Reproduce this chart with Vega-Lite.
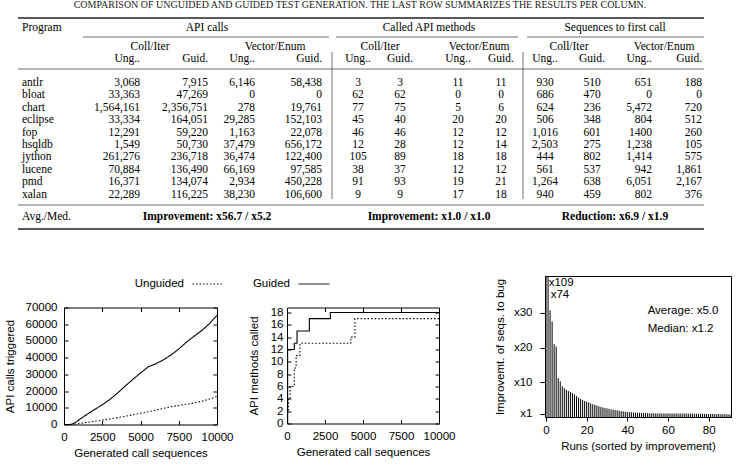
{
  "$schema": "https://vega.github.io/schema/vega-lite/v6.json",
  "padding": {"left": 3, "top": 0, "right": 0, "bottom": 0},
  "config": {
    "view": {"stroke": "black", "strokeWidth": 1},
    "font": "Liberation Sans",
    "axis": {"labelFont": "Liberation Sans", "labelFontSize": 11.5, "labelColor": "black", "titleFont": "Liberation Sans", "titleFontSize": 11.5, "titleFontWeight": "normal", "titleColor": "black", "tickColor": "black", "tickWidth": 1, "domain": false, "grid": false, "labelFlush": false, "labelOverlap": false},
    "legend": {"labelFont": "Liberation Sans", "labelFontSize": 11.5, "labelColor": "black"},
    "text": {"color": "black"}
  },
  "datasets": {
    "xa": [{"name":"edge","i":0},{"name":"prog","i":1},{"name":"ar0","i":2},{"name":"a1","i":3},{"name":"ahc","i":4},{"name":"ahd","i":5},{"name":"a2","i":6},{"name":"a3","i":7},{"name":"ahv","i":8},{"name":"a4","i":9},{"name":"ar1","i":10},{"name":"bar1","i":11},{"name":"mr0","i":12},{"name":"m1","i":13},{"name":"capc","i":14},{"name":"mhc","i":15},{"name":"m2","i":16},{"name":"mhd","i":17},{"name":"m3","i":18},{"name":"mhv","i":19},{"name":"m4","i":20},{"name":"mr1","i":21},{"name":"bar2","i":22},{"name":"sr0","i":23},{"name":"s1","i":24},{"name":"shc","i":25},{"name":"s2","i":26},{"name":"shd","i":27},{"name":"s3","i":28},{"name":"shv","i":29},{"name":"s4","i":30},{"name":"end","i":31}],
    "ya": [{"name":"cap","i":0},{"name":"top","i":1},{"name":"hdr","i":2},{"name":"r1","i":3},{"name":"sub","i":4},{"name":"vb0","i":5},{"name":"ug","i":6},{"name":"r2","i":7},{"name":"antlr","i":8},{"name":"bloat","i":9},{"name":"chart","i":10},{"name":"eclipse","i":11},{"name":"fop","i":12},{"name":"hsqldb","i":13},{"name":"jython","i":14},{"name":"lucene","i":15},{"name":"pmd","i":16},{"name":"xalan","i":17},{"name":"vb1","i":18},{"name":"r3","i":19},{"name":"avg","i":20},{"name":"bot","i":21}],
    "tbl": [
      {"row":"hdr","prog":"Program"},
      {"row":"ug","a1":"Ung..","a2":"Guid.","a3":"Ung..","a4":"Guid.","m1":"Ung..","m2":"Guid.","m3":"Ung..","m4":"Guid.","s1":"Ung..","s2":"Guid.","s3":"Ung..","s4":"Guid."},
      {"row":"antlr","prog":"antlr","a1":"3,068","a2":"7,915","a3":"6,146","a4":"58,438","m1":"3","m2":"3","m3":"11","m4":"11","s1":"930","s2":"510","s3":"651","s4":"188"},
      {"row":"bloat","prog":"bloat","a1":"33,363","a2":"47,269","a3":"0","a4":"0","m1":"62","m2":"62","m3":"0","m4":"0","s1":"686","s2":"470","s3":"0","s4":"0"},
      {"row":"chart","prog":"chart","a1":"1,564,161","a2":"2,356,751","a3":"278","a4":"19,761","m1":"77","m2":"75","m3":"5","m4":"6","s1":"624","s2":"236","s3":"5,472","s4":"720"},
      {"row":"eclipse","prog":"eclipse","a1":"33,334","a2":"164,051","a3":"29,285","a4":"152,103","m1":"45","m2":"40","m3":"20","m4":"20","s1":"506","s2":"348","s3":"804","s4":"512"},
      {"row":"fop","prog":"fop","a1":"12,291","a2":"59,220","a3":"1,163","a4":"22,078","m1":"46","m2":"46","m3":"12","m4":"12","s1":"1,016","s2":"601","s3":"1400","s4":"260"},
      {"row":"hsqldb","prog":"hsqldb","a1":"1,549","a2":"50,730","a3":"37,479","a4":"656,172","m1":"12","m2":"28","m3":"12","m4":"14","s1":"2,503","s2":"275","s3":"1,238","s4":"105"},
      {"row":"jython","prog":"jython","a1":"261,276","a2":"236,718","a3":"36,474","a4":"122,400","m1":"105","m2":"89","m3":"18","m4":"18","s1":"444","s2":"802","s3":"1,414","s4":"575"},
      {"row":"lucene","prog":"lucene","a1":"70,884","a2":"136,490","a3":"66,169","a4":"97,585","m1":"38","m2":"37","m3":"12","m4":"12","s1":"561","s2":"537","s3":"942","s4":"1,861"},
      {"row":"pmd","prog":"pmd","a1":"16,371","a2":"134,074","a3":"2,934","a4":"450,228","m1":"91","m2":"93","m3":"19","m4":"21","s1":"1,264","s2":"638","s3":"6,051","s4":"2,167"},
      {"row":"xalan","prog":"xalan","a1":"22,289","a2":"116,225","a3":"38,230","a4":"106,600","m1":"9","m2":"9","m3":"17","m4":"18","s1":"940","s2":"459","s3":"802","s4":"376"},
      {"row":"avg","prog":"Avg./Med."}
    ],
    "spans": [
      {"row":"cap","at":"capc","text":"COMPARISON OF UNGUIDED AND GUIDED TEST GENERATION. THE LAST ROW SUMMARIZES THE RESULTS PER COLUMN."},
      {"row":"hdr","at":"ahd","text":"API calls"},
      {"row":"hdr","at":"mhd","text":"Called API methods"},
      {"row":"hdr","at":"shd","text":"Sequences to first call"},
      {"row":"sub","at":"ahc","text":"Coll/Iter"},
      {"row":"sub","at":"ahv","text":"Vector/Enum"},
      {"row":"sub","at":"mhc","text":"Coll/Iter"},
      {"row":"sub","at":"mhv","text":"Vector/Enum"},
      {"row":"sub","at":"shc","text":"Coll/Iter"},
      {"row":"sub","at":"shv","text":"Vector/Enum"},
      {"row":"avg","at":"ahd","text":"Improvement: x56.7 / x5.2"},
      {"row":"avg","at":"mhd","text":"Improvement: x1.0 / x1.0"},
      {"row":"avg","at":"shd","text":"Reduction: x6.9 / x1.9"}
    ],
    "lines": [
      {"row":"top","from":"edge","to":"end"},
      {"row":"r1","from":"ar0","to":"ar1"},
      {"row":"r1","from":"mr0","to":"mr1"},
      {"row":"r1","from":"sr0","to":"end"},
      {"row":"r2","from":"edge","to":"end"},
      {"row":"r3","from":"edge","to":"end"},
      {"row":"bot","from":"edge","to":"end"}
    ],
    "bars": [
      {"col":"bar1","from":"vb0","to":"vb1"},
      {"col":"bar2","from":"vb0","to":"vb1"}
    ],
    "reach": [
      {"seq":0,"calls":0,"series":"Guided"},{"seq":400,"calls":0,"series":"Guided"},{"seq":600,"calls":500,"series":"Guided"},{"seq":800,"calls":1500,"series":"Guided"},{"seq":1000,"calls":3000,"series":"Guided"},{"seq":1500,"calls":6000,"series":"Guided"},{"seq":2000,"calls":9000,"series":"Guided"},{"seq":2500,"calls":11800,"series":"Guided"},{"seq":3000,"calls":15000,"series":"Guided"},{"seq":3500,"calls":18800,"series":"Guided"},{"seq":4000,"calls":23000,"series":"Guided"},{"seq":4500,"calls":27000,"series":"Guided"},{"seq":5000,"calls":30800,"series":"Guided"},{"seq":5500,"calls":34500,"series":"Guided"},{"seq":6000,"calls":36300,"series":"Guided"},{"seq":6500,"calls":38700,"series":"Guided"},{"seq":7000,"calls":41600,"series":"Guided"},{"seq":7500,"calls":45200,"series":"Guided"},{"seq":8000,"calls":49200,"series":"Guided"},{"seq":8500,"calls":52800,"series":"Guided"},{"seq":9000,"calls":56200,"series":"Guided"},{"seq":9500,"calls":60300,"series":"Guided"},{"seq":10000,"calls":65300,"series":"Guided"},
      {"seq":0,"calls":0,"series":"Unguided"},{"seq":500,"calls":0,"series":"Unguided"},{"seq":1000,"calls":600,"series":"Unguided"},{"seq":1500,"calls":1200,"series":"Unguided"},{"seq":2000,"calls":1900,"series":"Unguided"},{"seq":2500,"calls":2600,"series":"Unguided"},{"seq":3000,"calls":3300,"series":"Unguided"},{"seq":3500,"calls":4100,"series":"Unguided"},{"seq":4000,"calls":4900,"series":"Unguided"},{"seq":4500,"calls":5800,"series":"Unguided"},{"seq":5000,"calls":6700,"series":"Unguided"},{"seq":5500,"calls":7600,"series":"Unguided"},{"seq":6000,"calls":8600,"series":"Unguided"},{"seq":6500,"calls":9600,"series":"Unguided"},{"seq":7000,"calls":10700,"series":"Unguided"},{"seq":7500,"calls":11400,"series":"Unguided"},{"seq":8000,"calls":12100,"series":"Unguided"},{"seq":8500,"calls":12900,"series":"Unguided"},{"seq":9000,"calls":13900,"series":"Unguided"},{"seq":9500,"calls":15200,"series":"Unguided"},{"seq":10000,"calls":16800,"series":"Unguided"}
    ],
    "methods": [
      {"seq":0,"n":0,"series":"Guided"},{"seq":40,"n":12,"series":"Guided"},{"seq":480,"n":13,"series":"Guided"},{"seq":660,"n":15,"series":"Guided"},{"seq":1470,"n":17,"series":"Guided"},{"seq":2850,"n":18,"series":"Guided"},{"seq":10000,"n":18,"series":"Guided"},
      {"seq":0,"n":0,"series":"Unguided"},{"seq":40,"n":2,"series":"Unguided"},{"seq":90,"n":4,"series":"Unguided"},{"seq":200,"n":6,"series":"Unguided"},{"seq":480,"n":9,"series":"Unguided"},{"seq":600,"n":11,"series":"Unguided"},{"seq":850,"n":13,"series":"Unguided"},{"seq":4200,"n":14,"series":"Unguided"},{"seq":4470,"n":17,"series":"Unguided"},{"seq":10000,"n":17,"series":"Unguided"}
    ],
    "improve": [
      {"run":0,"x":109},{"run":1,"x":74},{"run":2,"x":30.7},{"run":3,"x":27.5},{"run":4,"x":21},{"run":5,"x":20.3},{"run":6,"x":11.2},{"run":7,"x":10.3},{"run":8,"x":8.8},{"run":9,"x":8.3},
      {"run":10,"x":7.8},{"run":11,"x":7.5},{"run":12,"x":7.2},{"run":13,"x":6.9},{"run":14,"x":6.5},{"run":15,"x":6.0},{"run":16,"x":5.6},{"run":17,"x":5.2},{"run":18,"x":4.9},{"run":19,"x":4.6},
      {"run":20,"x":4.4},{"run":21,"x":4.2},{"run":22,"x":3.9},{"run":23,"x":3.7},{"run":24,"x":3.5},{"run":25,"x":3.3},{"run":26,"x":3.1},{"run":27,"x":2.9},{"run":28,"x":2.75},{"run":29,"x":2.6},
      {"run":30,"x":2.5},{"run":31,"x":2.35},{"run":32,"x":2.2},{"run":33,"x":2.1},{"run":34,"x":2.0},{"run":35,"x":1.9},{"run":36,"x":1.8},{"run":37,"x":1.7},{"run":38,"x":1.62},{"run":39,"x":1.55},
      {"run":40,"x":1.48},{"run":41,"x":1.42},{"run":42,"x":1.36},{"run":43,"x":1.3},{"run":44,"x":1.25},{"run":45,"x":1.21},{"run":46,"x":1.19},{"run":47,"x":1.16},{"run":48,"x":1.14},{"run":49,"x":1.12},
      {"run":50,"x":1.1},{"run":51,"x":1.08},{"run":52,"x":1.07},{"run":53,"x":1.06},{"run":54,"x":1.05},{"run":55,"x":1.04},{"run":56,"x":1.03},{"run":57,"x":1.02},{"run":58,"x":1.01},{"run":59,"x":1.0},
      {"run":60,"x":1.0},{"run":61,"x":1.0},{"run":62,"x":1.0},{"run":63,"x":1.0},{"run":64,"x":1.0},{"run":65,"x":1.0},{"run":66,"x":1.0},{"run":67,"x":1.0},{"run":68,"x":1.0},{"run":69,"x":0.99},
      {"run":70,"x":0.98},{"run":71,"x":0.97},{"run":72,"x":0.96},{"run":73,"x":0.95},{"run":74,"x":0.94},{"run":75,"x":0.93},{"run":76,"x":0.92},{"run":77,"x":0.91},{"run":78,"x":0.9},{"run":79,"x":0.89},
      {"run":80,"x":0.88},{"run":81,"x":0.87},{"run":82,"x":0.86},{"run":83,"x":0.85},{"run":84,"x":0.84},{"run":85,"x":0.83},{"run":86,"x":0.82},{"run":87,"x":0.81},{"run":88,"x":0.8},{"run":89,"x":0.78},
      {"run":90,"x":0.76},{"run":91,"x":0.74}
    ]
  },
  "spacing": 37,
  "vconcat": [
    {
      "width": 640,
      "height": 229,
      "view": {"stroke": null},
      "layer": [
        {
          "data": {"name": "lines"},
          "transform": [
            {"lookup": "from", "from": {"data": {"name": "xa"}, "key": "name", "fields": ["i"]}, "as": ["x0"]},
            {"lookup": "to", "from": {"data": {"name": "xa"}, "key": "name", "fields": ["i"]}, "as": ["x1"]},
            {"lookup": "row", "from": {"data": {"name": "ya"}, "key": "name", "fields": ["i"]}, "as": ["yi"]}
          ],
          "layer": [
            {
              "transform": [{"filter": {"field": "row", "oneOf": ["top", "bot"]}}],
              "mark": {"type": "rule", "color": "#222222", "strokeWidth": 1.5},
              "encoding": {
                "x": {"field": "x0", "type": "quantitative", "axis": null, "scale": {"type": "linear", "domain": [0,1,2,3,4,5,6,7,8,9,10,11,12,13,14,15,16,17,18,19,20,21,22,23,24,25,26,27,28,29,30,31], "range": [-46,-42,19,76,86,143,144,191,211,258,265,268,272,294,296,316,336,365,394,415,437,454,459,463,481,505,528,551,588,600,638,640], "nice": false, "zero": false}},
                "x2": {"field": "x1"},
                "y": {"field": "yi", "type": "quantitative", "axis": null, "scale": {"type": "linear", "domain": [0,1,2,3,4,5,6,7,8,9,10,11,12,13,14,15,16,17,18,19,20,21], "range": [5,18,27.5,37,46.5,52,58.5,69,83,95.4,107.8,120.2,132.6,145,157.4,169.8,182.2,194.6,199,205,217,229], "nice": false, "zero": false}}
              }
            },
            {
              "transform": [{"filter": {"not": {"field": "row", "oneOf": ["top", "bot"]}}}],
              "mark": {"type": "rule", "color": "#333333", "strokeWidth": 0.7},
              "encoding": {
                "x": {"field": "x0", "type": "quantitative", "axis": null},
                "x2": {"field": "x1"},
                "y": {"field": "yi", "type": "quantitative", "axis": null}
              }
            }
          ]
        },
        {
          "data": {"name": "bars"},
          "transform": [
            {"lookup": "col", "from": {"data": {"name": "xa"}, "key": "name", "fields": ["i"]}, "as": ["xi"]},
            {"lookup": "from", "from": {"data": {"name": "ya"}, "key": "name", "fields": ["i"]}, "as": ["y0"]},
            {"lookup": "to", "from": {"data": {"name": "ya"}, "key": "name", "fields": ["i"]}, "as": ["y1"]}
          ],
          "mark": {"type": "rule", "color": "#333333", "strokeWidth": 0.7},
          "encoding": {
            "x": {"field": "xi", "type": "quantitative", "axis": null},
            "y": {"field": "y0", "type": "quantitative", "axis": null},
            "y2": {"field": "y1"}
          }
        },
        {
          "data": {"name": "tbl"},
          "transform": [
            {"fold": ["prog","a1","a2","a3","a4","m1","m2","m3","m4","s1","s2","s3","s4"], "as": ["col","txt"]},
            {"filter": "isValid(datum.txt)"},
            {"lookup": "col", "from": {"data": {"name": "xa"}, "key": "name", "fields": ["i"]}, "as": ["xi"]},
            {"lookup": "row", "from": {"data": {"name": "ya"}, "key": "name", "fields": ["i"]}, "as": ["yi"]}
          ],
          "layer": [
            {
              "transform": [{"filter": {"field": "col", "equal": "prog"}}],
              "mark": {"type": "text", "align": "left", "baseline": "middle", "font": "Liberation Serif", "fontSize": 11.5, "color": "black"},
              "encoding": {"x": {"field": "xi", "type": "quantitative", "axis": null}, "y": {"field": "yi", "type": "quantitative", "axis": null}, "text": {"field": "txt"}}
            },
            {
              "transform": [{"filter": {"field": "col", "oneOf": ["a1","a2","a3","a4","s3","s4"]}}],
              "mark": {"type": "text", "align": "right", "baseline": "middle", "font": "Liberation Serif", "fontSize": 11.5, "color": "black"},
              "encoding": {"x": {"field": "xi", "type": "quantitative", "axis": null}, "y": {"field": "yi", "type": "quantitative", "axis": null}, "text": {"field": "txt"}}
            },
            {
              "transform": [{"filter": {"field": "col", "oneOf": ["m1","m2","m3","m4","s1","s2"]}}],
              "mark": {"type": "text", "align": "center", "baseline": "middle", "font": "Liberation Serif", "fontSize": 11.5, "color": "black"},
              "encoding": {"x": {"field": "xi", "type": "quantitative", "axis": null}, "y": {"field": "yi", "type": "quantitative", "axis": null}, "text": {"field": "txt"}}
            }
          ]
        },
        {
          "data": {"name": "spans"},
          "transform": [
            {"lookup": "at", "from": {"data": {"name": "xa"}, "key": "name", "fields": ["i"]}, "as": ["xi"]},
            {"lookup": "row", "from": {"data": {"name": "ya"}, "key": "name", "fields": ["i"]}, "as": ["yi"]}
          ],
          "layer": [
            {
              "transform": [{"filter": {"field": "row", "equal": "cap"}}],
              "mark": {"type": "text", "align": "center", "baseline": "middle", "font": "Liberation Serif", "fontSize": 10, "color": "#222222"},
              "encoding": {"x": {"field": "xi", "type": "quantitative", "axis": null}, "y": {"field": "yi", "type": "quantitative", "axis": null}, "text": {"field": "text"}}
            },
            {
              "transform": [{"filter": {"field": "row", "oneOf": ["hdr", "sub"]}}],
              "mark": {"type": "text", "align": "center", "baseline": "middle", "font": "Liberation Serif", "fontSize": 11.5, "color": "black"},
              "encoding": {"x": {"field": "xi", "type": "quantitative", "axis": null}, "y": {"field": "yi", "type": "quantitative", "axis": null}, "text": {"field": "text"}}
            },
            {
              "transform": [{"filter": {"field": "row", "equal": "avg"}}],
              "mark": {"type": "text", "align": "center", "baseline": "middle", "font": "Liberation Serif", "fontSize": 11.5, "fontWeight": "bold", "color": "black"},
              "encoding": {"x": {"field": "xi", "type": "quantitative", "axis": null}, "y": {"field": "yi", "type": "quantitative", "axis": null}, "text": {"field": "text"}}
            }
          ]
        }
      ]
    },
    {
      "spacing": 37,
      "hconcat": [
        {
          "spacing": -12.5,
          "vconcat": [
            {"width": 10, "height": 1, "view": {"stroke": null}, "data": {"values": [{}]}, "mark": {"type": "point", "opacity": 0}, "encoding": {}},
            {
              "spacing": 13,
              "resolve": {"scale": {"strokeDash": "independent"}, "legend": {"strokeDash": "independent"}},
              "hconcat": [
                {
                  "width": 153,
                  "height": 117,
                  "data": {"name": "reach"},
                  "resolve": {"axis": {"x": "independent", "y": "independent"}},
                  "layer": [
                    {
                      "mark": {"type": "line", "color": "black", "strokeWidth": 1.1},
                      "encoding": {
                        "x": {"field": "seq", "type": "quantitative", "scale": {"domain": [0, 10000], "nice": false}, "axis": {"values": [0, 2500, 5000, 7500, 10000], "format": "d", "title": "Generated call sequences", "tickSize": -4, "labelPadding": 10.5, "titlePadding": 5}},
                        "y": {"field": "calls", "type": "quantitative", "scale": {"domain": [0, 70000], "nice": false}, "axis": {"values": [0, 10000, 20000, 30000, 40000, 50000, 60000, 70000], "format": "d", "title": "API calls triggered", "tickSize": -4, "labelPadding": 11, "titlePadding": 10}},
                        "strokeDash": {"field": "series", "type": "nominal", "scale": {"domain": ["Unguided", "Guided"], "range": [[1.5, 2], [1, 0]]}, "legend": {"orient": "none", "legendX": 128, "legendY": -39.5, "values": ["Unguided"], "title": null, "symbolType": "stroke", "symbolSize": 961, "symbolStrokeWidth": 1, "symbolStrokeColor": "black", "labelAlign": "right", "labelOffset": -40, "padding": 0}}
                      }
                    },
                    {
                      "mark": {"type": "line", "opacity": 0},
                      "encoding": {
                        "x": {"field": "seq", "type": "quantitative", "axis": {"orient": "top", "values": [0, 2500, 5000, 7500, 10000], "labels": false, "title": null, "tickSize": -4}},
                        "y": {"field": "calls", "type": "quantitative", "axis": {"orient": "right", "values": [0, 10000, 20000, 30000, 40000, 50000, 60000, 70000], "labels": false, "title": null, "tickSize": -4}}
                      }
                    }
                  ]
                },
                {
                  "width": 152,
                  "height": 116,
                  "data": {"name": "methods"},
                  "resolve": {"axis": {"x": "independent", "y": "independent"}},
                  "layer": [
                    {
                      "mark": {"type": "line", "color": "black", "strokeWidth": 1.1, "interpolate": "step-after"},
                      "encoding": {
                        "x": {"field": "seq", "type": "quantitative", "scale": {"domain": [0, 10000], "nice": false}, "axis": {"values": [0, 2500, 5000, 7500, 10000], "format": "d", "title": "Generated call sequences", "tickSize": -4, "labelPadding": 10.5, "titlePadding": 5}},
                        "y": {"field": "n", "type": "quantitative", "scale": {"domain": [0, 18.8], "nice": false}, "axis": {"values": [0, 2, 4, 6, 8, 10, 12, 14, 16, 18], "format": "d", "title": "API methods called", "tickSize": -4, "labelPadding": 8, "titlePadding": 11}},
                        "strokeDash": {"field": "series", "type": "nominal", "scale": {"domain": ["Unguided", "Guided"], "range": [[1.5, 2], [1, 0]]}, "legend": {"orient": "none", "legendX": 11, "legendY": -39.5, "values": ["Guided"], "title": null, "symbolType": "stroke", "symbolSize": 961, "symbolStrokeWidth": 1, "symbolStrokeColor": "black", "labelAlign": "right", "labelOffset": -40, "padding": 0}}
                      }
                    },
                    {
                      "mark": {"type": "line", "opacity": 0},
                      "encoding": {
                        "x": {"field": "seq", "type": "quantitative", "axis": {"orient": "top", "values": [0, 2500, 5000, 7500, 10000], "labels": false, "title": null, "tickSize": -4}},
                        "y": {"field": "n", "type": "quantitative", "axis": {"orient": "right", "values": [0, 2, 4, 6, 8, 10, 12, 14, 16, 18], "labels": false, "title": null, "tickSize": -4}}
                      }
                    }
                  ]
                }
              ]
            }
          ]
        },
        {
          "width": 186,
          "height": 141,
          "layer": [
            {
              "data": {"name": "improve"},
              "mark": {"type": "rule", "color": "black", "strokeWidth": 1, "clip": true},
              "encoding": {
                "x": {"field": "run", "type": "quantitative", "scale": {"domain": [-0.5, 91], "nice": false, "zero": false}, "axis": {"values": [0, 10, 20, 30, 40, 50, 60, 70, 80, 90], "title": "Runs (sorted by improvement)", "tickSize": 4, "labelPadding": 3, "titlePadding": 5}},
                "y": {"field": "x", "type": "quantitative", "scale": {"domain": [0, 40.6], "nice": false}, "axis": {"values": [1, 10, 20, 30], "labelExpr": "'x' + datum.value", "title": "Improvemt. of seqs. to bug", "tickSize": 5, "labelPadding": 8, "titlePadding": 8}},
                "y2": {"datum": 0}
              }
            },
            {
              "data": {"values": [{"t": "x109"}]},
              "mark": {"type": "text", "align": "left", "baseline": "middle", "fontSize": 11.5, "font": "Liberation Sans"},
              "encoding": {"x": {"datum": 1.3}, "y": {"datum": 38.7}, "text": {"field": "t"}}
            },
            {
              "data": {"values": [{"t": "x74"}]},
              "mark": {"type": "text", "align": "left", "baseline": "middle", "fontSize": 11.5, "font": "Liberation Sans"},
              "encoding": {"x": {"datum": 2.3}, "y": {"datum": 35.2}, "text": {"field": "t"}}
            },
            {
              "data": {"values": [{"t": "Average: x5.0"}]},
              "mark": {"type": "text", "align": "left", "baseline": "middle", "fontSize": 11.5, "font": "Liberation Sans"},
              "encoding": {"x": {"datum": 50}, "y": {"datum": 30.6}, "text": {"field": "t"}}
            },
            {
              "data": {"values": [{"t": "Median: x1.2"}]},
              "mark": {"type": "text", "align": "left", "baseline": "middle", "fontSize": 11.5, "font": "Liberation Sans"},
              "encoding": {"x": {"datum": 50}, "y": {"datum": 25.4}, "text": {"field": "t"}}
            }
          ]
        }
      ]
    }
  ]
}
